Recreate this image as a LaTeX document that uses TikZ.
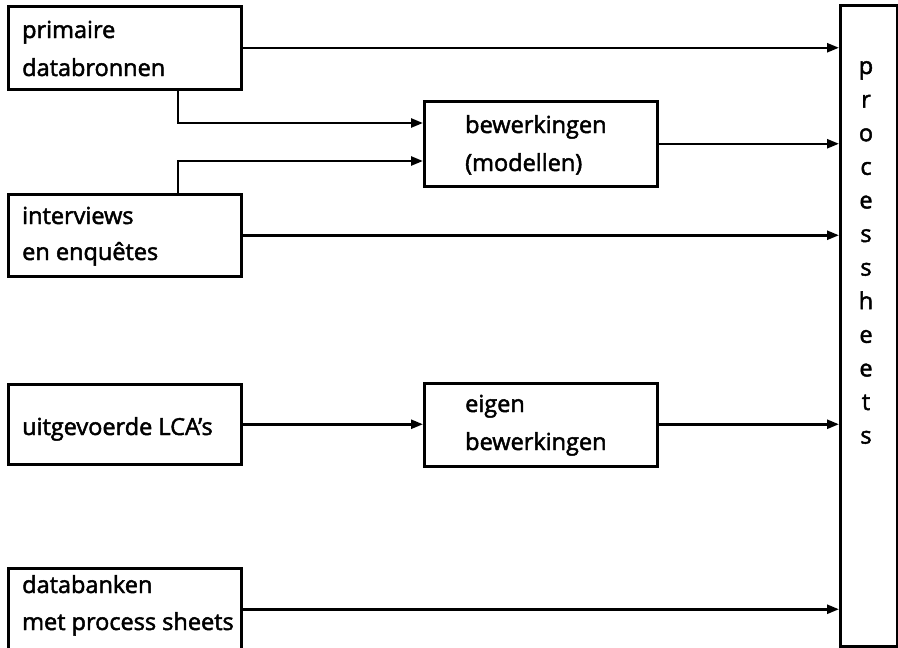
\documentclass[tikz,border=0pt]{standalone}
\usepackage{fontspec}
\setmainfont{Open Sans}
\newfontfamily\lblfont{Open Sans}[FakeBold=2]
\usetikzlibrary{arrows.meta,calc}
\begin{document}
\begin{tikzpicture}[x=1pt,y=-1pt,
  box/.style={draw,line width=2.5pt,inner sep=0pt,anchor=north west},
  lbl/.style={anchor=base west,inner sep=0pt,font=\lblfont\fontsize{23.5}{23.5}\selectfont},
  letter/.style={anchor=base,inner sep=0pt,font=\lblfont\fontsize{23.5}{23.5}\selectfont},
  conn/.style={line width=2.5pt,-{Triangle[length=12pt,width=9pt]}}]
\useasboundingbox (0,0) rectangle (898,648);
% boxes
\node[box,minimum width=233,minimum height=83] (prim) at (7,5) {};
\node[box,minimum width=233,minimum height=82] (intv) at (7,193) {};
\node[box,minimum width=233,minimum height=80] (lca) at (7,383) {};
\node[box,minimum width=233,minimum height=82] (db) at (7,567) {};
\node[box,minimum width=233,minimum height=85] (bew) at (423,100) {};
\node[box,minimum width=233,minimum height=83] (eig) at (423,382) {};
\node[box,minimum width=57,minimum height=641] (ps) at (839,4) {};
% texts
\node[lbl] (t1) at (22,38) {primaire};
\node[lbl] (t2) at (22,76) {databronnen};
\node[lbl] (t3) at (22,224) {interviews};
\node[lbl] (t4) at (22,260) {en enquêtes};
\node[lbl] (t5) at (22,435) {uitgevoerde LCA’s};
\node[lbl] (t6) at (22,593) {databanken};
\node[lbl] (t7) at (22,630) {met process sheets};
\node[lbl] (t8) at (465,133) {bewerkingen};
\node[lbl] (t9) at (465,171) {(modellen)};
\node[lbl] (t10) at (465,412) {eigen};
\node[lbl] (t11) at (465,450) {bewerkingen};
\foreach \c [count=\i from 0] in {p,r,o,c,e,s,s,h,e,e,t,s}
  \node[letter] (l\i) at (866,{74+33.6*\i}) {\c};
% connectors
\coordinate (pa) at (178,0);
\coordinate (bin1) at (0,123);
\coordinate (bin2) at (0,161);
\draw[conn] (prim.east) -- (prim.east -| ps.west);
\draw[conn] (intv.east) -- (intv.east -| ps.west);
\draw[conn] (bew.east) -- (bew.east -| ps.west);
\draw[conn] (eig.east |- lca.east) -- (lca.east -| ps.west);
\draw[conn] (db.east) -- (db.east -| ps.west);
\draw[conn] (lca.east) -- (lca.east -| eig.west);
\draw[conn] (pa |- prim.south) |- (bin1 -| bew.west);
\draw[conn] (pa |- intv.north) |- (bin2 -| bew.west);
\end{tikzpicture}
\end{document}
